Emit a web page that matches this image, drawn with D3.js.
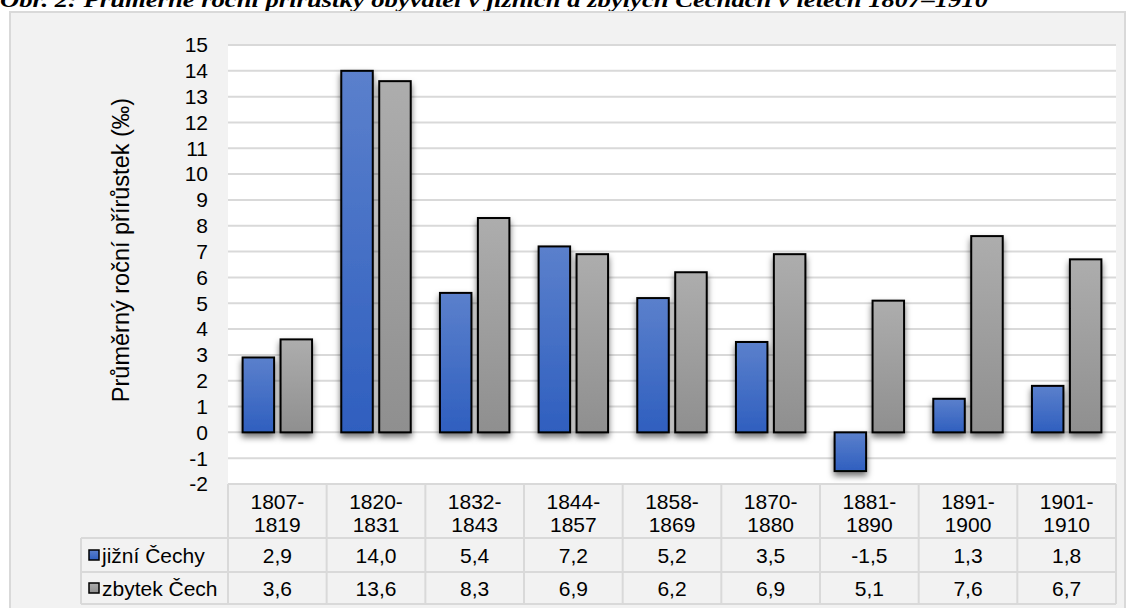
<html>
<head>
<meta charset="utf-8">
<script src="https://d3js.org/d3.v7.min.js"></script>
<style>
  body { margin: 0; background: #fff; }
  svg text { font-family: "Liberation Sans", Arial, sans-serif; fill: #000; }
  svg text.title { font-family: "Liberation Serif", "Times New Roman", serif; }
</style>
</head>
<body>
<script>
  const periods = ["1807-1819", "1820-1831", "1832-1843", "1844-1857", "1858-1869",
                   "1870-1880", "1881-1890", "1891-1900", "1901-1910"];
  const seriesNames = ["jižní Čechy", "zbytek Čech"];
  const jizniCechy = [2.9, 14.0, 5.4, 7.2, 5.2, 3.5, -1.5, 1.3, 1.8];
  const zbytekCech = [3.6, 13.6, 8.3, 6.9, 6.2, 6.9, 5.1, 7.6, 6.7];
  const yTicks = d3.range(-2, 16);
  const title = "Obr. 2: Průměrné roční přírůstky obyvatel v jižních a zbylých Čechách v letech 1807–1910";
  const yLabel = "Průměrný roční přírůstek (‰)";

  const w = 1126, h = 608;
  const plotL = 228, plotR = 1116, plotT = 45, plotB = 484;
  const rowH = [54, 34, 32];
  const legendL = 81;
  const fs = "21px";

  const svg = d3.select("body").append("svg")
    .attr("width", w).attr("height", h);

  const defs = svg.append("defs");
  const grads = [["gBlue", "#5b80cc", "#2f5fbf"], ["gGray", "#adadad", "#8f8f8f"]];
  grads.forEach(g => {
    const lg = defs.append("linearGradient").attr("id", g[0])
      .attr("x1", 0).attr("y1", 0).attr("x2", 0).attr("y2", 1);
    lg.append("stop").attr("offset", "0%").attr("stop-color", g[1]);
    lg.append("stop").attr("offset", "100%").attr("stop-color", g[2]);
  });
  defs.append("filter").attr("id", "shadow")
    .attr("x", "-30%").attr("y", "-10%").attr("width", "160%").attr("height", "130%")
    .append("feDropShadow")
    .attr("dx", 0).attr("dy", 4).attr("stdDeviation", 3)
    .attr("flood-color", "#000").attr("flood-opacity", 0.55);

  // title (cut at top edge like the source)
  svg.append("text").attr("class", "title")
    .attr("x", 0).attr("y", 7)
    .style("font-weight", "bold").style("font-style", "italic")
    .style("font-size", "22px")
    .attr("textLength", 988).attr("lengthAdjust", "spacingAndGlyphs")
    .text(title);

  // outer chart box
  svg.append("rect")
    .attr("x", 10).attr("y", 12).attr("width", 1115).attr("height", 610)
    .attr("fill", "#f2f2f2").attr("stroke", "#d9d9d9").attr("stroke-width", 2);

  const x = d3.scaleBand().domain(periods).range([plotL, plotR]);
  const xs = d3.scaleBand().domain(seriesNames).range([0, x.bandwidth()])
    .paddingInner(0.17).paddingOuter(0.385);
  const y = d3.scaleLinear().domain([-2, 15]).range([plotB, plotT]);

  // plot area
  svg.append("rect")
    .attr("x", plotL).attr("y", plotT).attr("width", plotR - plotL).attr("height", plotB - plotT)
    .attr("fill", "#fff");

  svg.append("g").selectAll("line").data(yTicks).join("line")
    .attr("x1", plotL).attr("x2", plotR)
    .attr("y1", d => y(d)).attr("y2", d => y(d))
    .attr("stroke", "#d9d9d9").attr("stroke-width", 2);

  // y tick labels
  svg.append("g").selectAll("text").data(yTicks).join("text")
    .attr("x", 208).attr("y", d => y(d)).attr("dy", "0.35em")
    .attr("text-anchor", "end").style("font-size", fs)
    .text(d => d);

  svg.append("text")
    .attr("transform", "translate(129,250) rotate(-90)")
    .attr("text-anchor", "middle").style("font-size", "23.5px")
    .text(yLabel);

  // bars
  const series = [jizniCechy, zbytekCech];
  const fills = ["url(#gBlue)", "url(#gGray)"];
  series.forEach((vals, si) => {
    svg.append("g").attr("filter", "url(#shadow)")
      .selectAll("rect").data(vals).join("rect")
      .attr("x", (d, i) => x(periods[i]) + xs(seriesNames[si]))
      .attr("width", xs.bandwidth())
      .attr("y", d => y(Math.max(0, d)))
      .attr("height", d => Math.abs(y(d) - y(0)))
      .attr("fill", fills[si])
      .attr("stroke", "#000").attr("stroke-width", 2);
  });

  // data table
  const tbl = svg.append("g");
  const lineCol = "#d9d9d9";
  const r0 = plotB, r1 = plotB + rowH[0], r2 = r1 + rowH[1], r3 = r2 + rowH[2];
  [[plotL, r0], [legendL, r1], [legendL, r2], [legendL, r3]].forEach(d => {
    tbl.append("line").attr("x1", d[0]).attr("x2", plotR).attr("y1", d[1]).attr("y2", d[1])
      .attr("stroke", lineCol).attr("stroke-width", 2);
  });
  tbl.selectAll("line.v").data(periods.concat(["end"])).join("line")
    .attr("class", "v")
    .attr("x1", d => d === "end" ? plotR : x(d)).attr("x2", d => d === "end" ? plotR : x(d))
    .attr("y1", r0).attr("y2", r3)
    .attr("stroke", lineCol).attr("stroke-width", 2);
  tbl.append("line").attr("x1", legendL).attr("x2", legendL).attr("y1", r1).attr("y2", r3)
    .attr("stroke", lineCol).attr("stroke-width", 2);

  // header labels (two lines)
  periods.forEach(p => {
    const parts = p.split("-");
    const t = tbl.append("text").attr("text-anchor", "middle").style("font-size", fs);
    t.append("tspan").attr("x", x(p) + x.bandwidth() / 2).attr("y", r0 + 25).text(parts[0] + "-");
    t.append("tspan").attr("x", x(p) + x.bandwidth() / 2).attr("y", r0 + 48).text(parts[1]);
  });

  const fmt = v => v.toFixed(1).replace(".", ",");
  const rowTops = [r1, r2];
  const rowHs = [rowH[1], rowH[2]];
  series.forEach((vals, si) => {
    tbl.append("g").selectAll("text").data(vals).join("text")
      .attr("x", (d, i) => x(periods[i]) + x.bandwidth() / 2)
      .attr("y", rowTops[si] + rowHs[si] / 2).attr("dy", "0.36em")
      .attr("text-anchor", "middle").style("font-size", fs)
      .text(fmt);
    tbl.append("rect")
      .attr("x", 89).attr("y", rowTops[si] + rowHs[si] / 2 - 5)
      .attr("width", 10).attr("height", 10)
      .attr("fill", fills[si]).attr("stroke", "#000").attr("stroke-width", 1.5);
    tbl.append("text")
      .attr("x", 102).attr("y", rowTops[si] + rowHs[si] / 2).attr("dy", "0.36em")
      .style("font-size", fs)
      .text(seriesNames[si]);
  });
</script>
</body>
</html>
